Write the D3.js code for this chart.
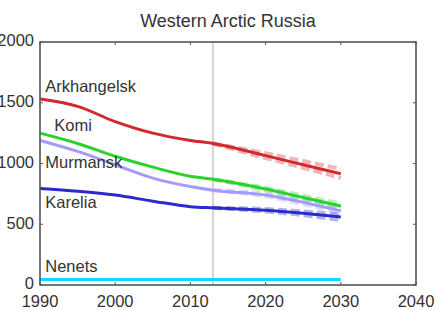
<!DOCTYPE html>
<html>
<head>
<meta charset="utf-8">
<script src="https://d3js.org/d3.v7.min.js"></script>
<style>
  body { margin: 0; background: #fff; }
  text { font-family: "Liberation Sans", Arial, sans-serif; fill: #333; }
</style>
</head>
<body>
<svg id="chart" width="438" height="310"></svg>
<script>
// historical + projected population (thousands)
const years = [1990, 1995, 2000, 2005, 2010, 2013, 2020, 2025, 2030]
const arkhangelsk = [1530, 1470, 1345, 1250, 1190, 1165, 1065, 990, 915]
const komi        = [1250, 1165, 1060, 970, 895, 870, 790, 720, 650]
const murmansk    = [1190, 1100, 990, 880, 810, 780, 740, 680, 610]
const karelia     = [795, 772, 740, 690, 645, 635, 615, 590, 560]
const nenets      = [45, 45, 45, 45, 45, 45, 45, 45, 45]

// projection uncertainty (upper / lower) from the base year on
const projYears = [2013, 2020, 2025, 2030]
const arkhHi = [1165, 1085, 1020, 955], arkhLo = [1165, 1045, 965, 880]
const komiHi = [870, 800, 735, 670],    komiLo = [870, 780, 705, 630]
const murmHi = [780, 750, 695, 630],    murmLo = [780, 730, 665, 590]
const karHi  = [635, 625, 605, 580],    karLo  = [635, 605, 575, 535]

const xTicks = [1990, 2000, 2010, 2020, 2030, 2040]
const yTicks = [0, 500, 1000, 1500, 2000]
const baseYear = 2013

const names  = ["Arkhangelsk", "Komi", "Murmansk", "Karelia", "Nenets"]
const colors = ["#d02a2e", "#2bd22b", "#a49bff", "#2b2bcc", "#11d8ff"]

const series = [
  {name: names[0], color: colors[0], values: arkhangelsk, hi: arkhHi, lo: arkhLo, lx: 1990.7, ly: 1590},
  {name: names[1], color: colors[1], values: komi,        hi: komiHi, lo: komiLo, lx: 1991.9, ly: 1265},
  {name: names[2], color: colors[2], values: murmansk,    hi: murmHi, lo: murmLo, lx: 1990.7, ly: 960},
  {name: names[3], color: colors[3], values: karelia,     hi: karHi,  lo: karLo,  lx: 1990.7, ly: 635},
  {name: names[4], color: colors[4], values: nenets,      hi: null,   lo: null,   lx: 1990.7, ly: 105}
]

const svg = d3.select("#chart")
const margin = {left: 40, right: 22, top: 42, bottom: 25}
const width = 438, height = 310

const x = d3.scaleLinear().domain([1990, 2040]).range([margin.left, width - margin.right])
const y = d3.scaleLinear().domain([0, 2000]).range([height - margin.bottom, margin.top])

// title
svg.append("text")
  .attr("x", (x(1990) + x(2040)) / 2)
  .attr("y", 27)
  .attr("text-anchor", "middle")
  .style("font-size", "18px")
  .text("Western Arctic Russia")

// base year line
svg.append("line")
  .attr("x1", x(baseYear)).attr("x2", x(baseYear))
  .attr("y1", y(2000)).attr("y2", y(0))
  .attr("stroke", "#c8c8c8").attr("stroke-width", 1.5)

const line = d3.line()
  .x(d => x(d[0]))
  .y(d => y(d[1]))
  .curve(d3.curveMonotoneX)

// uncertainty dashes
series.forEach(s => {
  if (!s.hi) return
  ;[s.hi, s.lo].forEach(band => {
    svg.append("path")
      .datum(projYears.map((yr, i) => [yr, band[i]]))
      .attr("d", line)
      .attr("fill", "none")
      .attr("stroke", s.color)
      .attr("stroke-opacity", 0.35)
      .attr("stroke-width", 4)
      .attr("stroke-dasharray", "9,4")
  })
})

// main lines
series.forEach(s => {
  svg.append("path")
    .datum(years.map((yr, i) => [yr, s.values[i]]))
    .attr("d", line)
    .attr("fill", "none")
    .attr("stroke", s.color)
    .attr("stroke-width", 3)
})

// labels
series.forEach(s => {
  svg.append("text")
    .attr("x", x(s.lx))
    .attr("y", y(s.ly))
    .style("font-size", "16.5px")
    .text(s.name)
})

// frame + ticks
const axisColor = "#555"
const frame = svg.append("g")
frame.append("rect")
  .attr("x", x(1990)).attr("y", y(2000))
  .attr("width", x(2040) - x(1990)).attr("height", y(0) - y(2000))
  .attr("fill", "none").attr("stroke", axisColor).attr("stroke-width", 1.6)

const tl = 3
xTicks.forEach(t => {
  frame.append("line").attr("x1", x(t)).attr("x2", x(t)).attr("y1", y(0)).attr("y2", y(0) - tl)
    .attr("stroke", axisColor)
  frame.append("line").attr("x1", x(t)).attr("x2", x(t)).attr("y1", y(2000)).attr("y2", y(2000) + tl)
    .attr("stroke", axisColor)
  frame.append("text")
    .attr("x", x(t)).attr("y", y(0) + 21.5)
    .attr("text-anchor", "middle")
    .style("font-size", "16.5px")
    .text(t)
})
yTicks.forEach(t => {
  frame.append("line").attr("x1", x(1990)).attr("x2", x(1990) + tl).attr("y1", y(t)).attr("y2", y(t))
    .attr("stroke", axisColor)
  frame.append("line").attr("x1", x(2040)).attr("x2", x(2040) - tl).attr("y1", y(t)).attr("y2", y(t))
    .attr("stroke", axisColor)
  frame.append("text")
    .attr("x", x(1990) - 6).attr("y", y(t) - 1.5)
    .attr("dy", "0.35em")
    .attr("text-anchor", "end")
    .style("font-size", "16.5px")
    .text(t)
})
</script>
</body>
</html>
